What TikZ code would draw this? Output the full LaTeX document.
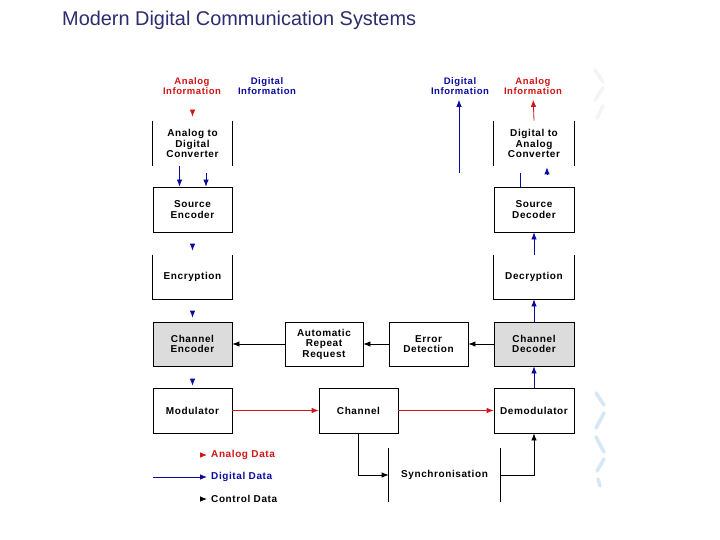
\documentclass[tikz,border=0pt]{standalone}
\usepackage{fontspec}
\setmainfont{Liberation Sans}
\newfontfamily\blockfont{Liberation Sans}[LetterSpace=6]
\usetikzlibrary{arrows.meta,positioning,calc}
\definecolor{titlenavy}{RGB}{45,45,110}
\definecolor{analogred}{RGB}{210,20,20}
\definecolor{digitalblue}{RGB}{10,10,160}
\definecolor{blockgray}{RGB}{220,220,220}
\definecolor{markblue}{RGB}{214,232,245}
\definecolor{markgray}{RGB}{243,245,245}
\tikzset{
 stage/.style={rectangle,draw=black,line width=0.8pt,minimum width=79pt,minimum height=45pt,inner sep=0pt,align=center,font=\blockfont\bfseries\fontsize{10}{10.5}\selectfont},
 openstage/.style={stage,draw=none},
 hdr/.style={inner sep=0pt,align=center,font=\blockfont\bfseries\fontsize{9.5}{10.3}\selectfont},
 legendtxt/.style={inner sep=0pt,anchor=west,font=\blockfont\bfseries\fontsize{10}{12}\selectfont},
 side/.style={line width=0.8pt,draw=black},
 aarrow/.style={-{Latex[length=7pt,width=5.5pt]},line width=0.8pt,draw=analogred},
 darrow/.style={-{Latex[length=7pt,width=5.5pt]},line width=0.8pt,draw=digitalblue},
 carrow/.style={-{Latex[length=7pt,width=5.5pt]},line width=0.8pt,draw=black},
 wmstroke/.style={line width=3.5pt,line cap=round}}

\begin{document}
\begin{tikzpicture}[x=1pt,y=-1pt]
\fill[white] (0,0) rectangle (720,540);
\useasboundingbox (0,0) rectangle (720,540);
\node[anchor=west,inner sep=0pt,text=titlenavy,font=\fontsize{19.9}{22}\selectfont] (title) at (62,20.5) {Modern Digital Communication Systems};
\draw[wmstroke,markgray] (595,70)--(603,82) (603,88)--(595,100) (603,106)--(597,118);
\draw[wmstroke,markblue] (596,393)--(604,405) (604,413)--(596,428) (596,437)--(604,452) (604,459)--(597,471) (598,479)--(600,486);
\node[hdr,text=analogred] (ainL) at (192,86) {Analog\\Information};
\node[hdr,text=digitalblue] (dinL) at (267,86) {Digital\\Information};
\node[hdr,text=digitalblue] (dinR) at (460,86) {Digital\\Information};
\node[hdr,text=analogred] (ainR) at (533,86) {Analog\\Information};
\node[openstage] (adc) at (192.5,143.5) {Analog to\\Digital\\Converter};
\node[stage] (senc) at (192.5,209.5) {Source\\Encoder};
\node[openstage,minimum height=44pt] (encr) at (192.5,277) {Encryption};
\node[stage,fill=blockgray,minimum height=44pt] (cenc) at (192.5,344) {Channel\\Encoder};
\node[stage] (mod) at (192.5,410.5) {Modulator};
\node[stage,minimum width=78pt,minimum height=44pt] (arq) at (324,344) {Automatic\\Repeat\\Request};
\node[stage,minimum height=44pt] (errdet) at (428.5,344) {Error\\Detection};
\node[stage,fill=blockgray,minimum width=80pt,minimum height=44pt] (cdec) at (534,344) {Channel\\Decoder};
\node[stage] (chan) at (358.5,410.5) {Channel};
\node[stage,minimum width=80pt] (demod) at (534,410.5) {Demodulator};
\node[openstage,minimum width=111pt,minimum height=53pt] (sync) at (444.5,475) {Synchronisation};
\node[openstage,minimum width=80pt] (dac) at (534,143.5) {Digital to\\Analog\\Converter};
\node[stage,minimum width=80pt] (sdec) at (534,209.5) {Source\\Decoder};
\node[openstage,minimum width=80pt,minimum height=44pt] (decr) at (534,277) {Decryption};
\draw[side] (adc.north west) -- (adc.south west) (adc.north east) -- (adc.south east);
\draw[side] (dac.north west) -- (dac.south west) (dac.north east) -- (dac.south east);
\draw[side] (sync.north west) -- (sync.south west) (sync.north east) -- (sync.south east);
\draw[side] (encr.north west) |- (encr.south east) -- (encr.north east);
\draw[side] (decr.north west) |- (decr.south east) -- (decr.north east);
\draw[aarrow] ([yshift=11pt]adc.north) -- ([yshift=4pt]adc.north);
\draw[darrow] ([xshift=-13pt]adc.south) -- ([xshift=-13pt]senc.north);
\draw[darrow] ([xshift=13.5pt,yshift=14pt]senc.north) -- ([xshift=13.5pt]senc.north);
\draw[darrow] ([yshift=11pt]encr.north) -- ([yshift=4pt]encr.north);
\draw[darrow] ([yshift=11pt]cenc.north) -- ([yshift=4pt]cenc.north);
\draw[darrow] ([yshift=9pt]mod.north) -- ([yshift=2pt]mod.north);
\draw[aarrow] (mod.east) -- (chan.west); \draw[aarrow] (chan.east) -- (demod.west);
\draw[carrow] (cdec.west) -- (errdet.east); \draw[carrow] (errdet.west) -- (arq.east);
\draw[carrow] (arq.west) -- (cenc.east);
\draw[carrow] (chan.south) |- (sync.west); \draw[carrow] (sync.east) -| (demod.south);
\draw[darrow] (demod.north) -- (cdec.south); \draw[darrow] (cdec.north) -- (decr.south);
\draw[darrow] (decr.north) -- (sdec.south);
\draw[side,draw=digitalblue] ([xshift=-14pt]sdec.north) -- ([xshift=-14pt,yshift=14pt]sdec.north);
\draw[darrow] ([xshift=13pt,yshift=-8pt]dac.south) -- ([xshift=13pt,yshift=-1pt]dac.south);
\draw[aarrow,shorten >=5pt] (dac.north) -- (ainR.south);
\coordinate (dtap) at (459,173);
\draw[darrow,shorten >=5pt] (dtap) -- (dtap |- dinR.south);
\node[legendtxt,text=analogred] (lgA) at (211,455) {Analog Data};
\node[legendtxt,text=digitalblue] (lgD) at (211,477) {Digital Data};
\node[legendtxt,text=black] (lgC) at (211,499) {Control Data};
\coordinate (lgtail) at (153,477);
\draw[aarrow] ([xshift=-11pt]lgA.west) -- ([xshift=-4pt]lgA.west);
\draw[darrow] (lgtail) -- ([xshift=-4pt]lgD.west);
\draw[carrow] ([xshift=-11pt]lgC.west) -- ([xshift=-4pt]lgC.west);
\end{tikzpicture}
\end{document}
